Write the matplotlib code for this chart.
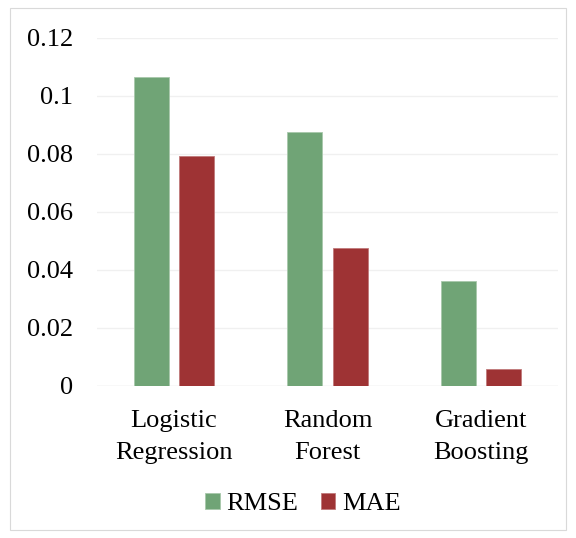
import matplotlib
matplotlib.use("Agg")
import matplotlib.pyplot as plt
import numpy as np
from matplotlib.patches import Rectangle

categories = ["Logistic\nRegression", "Random\nForest", "Gradient\nBoosting"]
rmse = [0.1067, 0.0875, 0.0363]
mae = [0.0793, 0.0477, 0.0058]
yticks = [0, 0.02, 0.04, 0.06, 0.08, 0.1, 0.12]
ytick_labels = ["0", "0.02", "0.04", "0.06", "0.08", "0.1", "0.12"]

plt.rcParams['font.family'] = ['Liberation Serif', 'DejaVu Serif']

fig = plt.figure(figsize=(5.76, 5.38), dpi=100)
fig.patches.append(Rectangle((10/576, 8/538), 556/576, 522/538, transform=fig.transFigure,
                             fill=False, edgecolor='#d9d9d9', linewidth=0.8))
ax = fig.add_axes([97/576, 1 - 386/538, 461/576, 348/538])

x = np.arange(len(categories))
w = 35/153.5
gap = 10/153.5
green = '#70a476'
red = '#9e3334'
ax.bar(x - (w + gap)/2, rmse, width=w, color=green, edgecolor='#a8c8ab', linewidth=0.6, label='RMSE', zorder=3)
ax.bar(x + (w + gap)/2, mae, width=w, color=red, edgecolor='#c07a7b', linewidth=0.6, label='MAE', zorder=3)

ax.set_xlim(-0.5, 2.5)
ax.set_ylim(0, 0.12)
ax.set_yticks(yticks)
ax.set_yticklabels(ytick_labels, fontsize=19)
ax.set_xticks(x)
ax.set_xticklabels(categories, fontsize=19, linespacing=1.6)
ax.tick_params(axis='x', length=0, pad=17)
ax.tick_params(axis='y', length=0, pad=17)
ax.grid(axis='y', color='#f0f0f0', linewidth=1, zorder=0)
for s in ax.spines.values():
    s.set_visible(False)
ax.axhline(0, color='#eeeeee', linewidth=1, zorder=1)

fig.legend(loc='center', bbox_to_anchor=(303/576, 1 - 504/538), ncol=2, frameon=False,
           fontsize=19, handlelength=0.55, handleheight=0.55, handletextpad=0.25, columnspacing=0.85)

fig.savefig("out.png", dpi=100)
